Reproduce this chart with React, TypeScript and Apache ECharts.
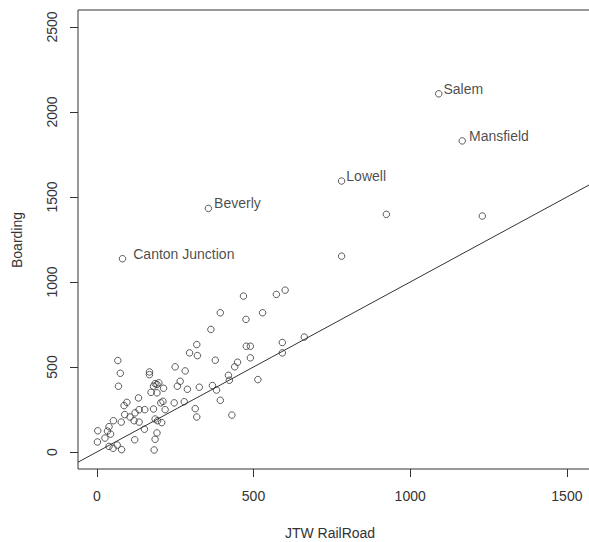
import React, { useEffect, useRef } from "react";
import * as echarts from "echarts";

// Axis ticks / limits (R style: 4% padding around 0..1500 and 0..2500)
const X_TICKS = [0, 500, 1000, 1500];
const Y_TICKS = [0, 500, 1000, 1500, 2000, 2500];
const X_MIN = -60;
const X_MAX = 1612;
const Y_MIN = -100;
const Y_MAX = 2600;

// Unlabelled stations: JTW RailRoad (x) and Boarding (y)
const jtw = [
  67, 75, 69, 168, 168, 186, 192, 198, 181, 213, 173, 192, 133, 250, 282, 266, 257, 289,
  319, 296, 321, 327, 211, 204, 247, 279, 314, 319, 96, 87, 135, 122, 89, 106, 153, 181,
  218, 186, 194, 207, 152, 53, 78, 119, 135, 192, 186, 121, 39, 34, 3, 26, 44, 2, 39, 52,
  65, 79, 183,
  468, 573, 601, 394, 476, 529, 364, 378, 477, 490, 490, 449, 440, 420, 423, 514, 592, 592,
  662, 369, 382, 394, 431,
  924, 1230, 781,
];
const boarding = [
  538, 463, 387, 471, 455, 402, 397, 407, 387, 375, 351, 348, 318, 501, 477, 416, 387, 369,
  632, 583, 567, 381, 298, 289, 289, 296, 255, 206, 292, 273, 249, 230, 220, 206, 249, 253,
  249, 194, 184, 173, 134, 184, 176, 184, 176, 112, 75, 72, 149, 123, 125, 82, 105, 59, 33, 22,
  41, 14, 12,
  917, 927, 952, 819, 780, 819, 721, 540, 622, 622, 554, 528, 501, 451, 422, 426, 644, 583,
  676, 391, 364, 304, 217,
  1398, 1388, 1152,
];

// Labelled stations
const labelNames = ["Canton Junction", "Beverly", "Lowell", "Salem", "Mansfield"];
const labelJtw = [82, 356, 781, 1091, 1166];
const labelBoarding = [1137, 1433, 1594, 2107, 1830];

// Reference line Boarding = intercept + slope * JTW
const ABLINE_INTERCEPT = 0;
const ABLINE_SLOPE = 1;

const FONT = "'Liberation Sans', Arial, sans-serif";
const INK = "#333";

export default function App() {
  const ref = useRef<HTMLDivElement | null>(null);

  useEffect(() => {
    if (!ref.current) return;
    const chart = echarts.init(ref.current, undefined, { renderer: "svg" });

    const points = jtw.map((x, i) => [x, boarding[i]]);
    const labelDistance: Record<string, number> = {
      "Canton Junction": 7,
      Beverly: 2,
      Lowell: 1,
      Salem: 1,
      Mansfield: 3,
    };
    const labelled = labelNames.map((n, i) => ({
      name: n,
      value: [labelJtw[i], labelBoarding[i]],
      label: {
        show: true,
        position: "right",
        distance: labelDistance[n],
        offset: [0, -5],
      },
    }));
    const lineData = [
      [X_MIN, ABLINE_INTERCEPT + ABLINE_SLOPE * X_MIN],
      [X_MAX, ABLINE_INTERCEPT + ABLINE_SLOPE * X_MAX],
    ];

    const pointStyle = {
      color: "rgba(0,0,0,0)",
      borderColor: INK,
      borderWidth: 1,
    };
    const plain = (v: number) => String(v);

    chart.setOption({
      animation: false,
      backgroundColor: "#fff",
      grid: {
        left: 78,
        top: 10,
        width: 524,
        height: 459,
        show: true,
        borderColor: INK,
        borderWidth: 1,
        backgroundColor: "transparent",
        containLabel: false,
        outerBoundsMode: "none",
      },
      xAxis: {
        type: "value",
        position: "bottom",
        min: X_MIN,
        max: X_MAX,
        splitLine: { show: false },
        axisLine: { show: false, onZero: false },
        axisTick: {
          show: true,
          inside: false,
          length: 8,
          lineStyle: { color: INK, width: 1 },
          customValues: X_TICKS,
        },
        axisLabel: {
          customValues: X_TICKS,
          formatter: plain,
          margin: 20,
          fontSize: 14,
          fontFamily: FONT,
          color: INK,
        },
      },
      yAxis: {
        type: "value",
        position: "left",
        min: Y_MIN,
        max: Y_MAX,
        splitLine: { show: false },
        axisLine: { show: false, onZero: false },
        axisTick: {
          show: true,
          inside: false,
          length: 8,
          lineStyle: { color: INK, width: 1 },
          customValues: Y_TICKS,
        },
        axisLabel: {
          customValues: Y_TICKS,
          formatter: plain,
          rotate: 90,
          margin: 19,
          fontSize: 14,
          fontFamily: FONT,
          color: INK,
        },
      },
      graphic: [
        {
          type: "text",
          x: 330,
          y: 532.5,
          style: {
            text: "JTW RailRoad",
            fontSize: 14,
            fontFamily: FONT,
            fill: INK,
            align: "center",
            verticalAlign: "middle",
          },
        },
        {
          type: "text",
          x: 17,
          y: 240,
          rotation: Math.PI / 2,
          style: {
            text: "Boarding",
            fontSize: 14,
            fontFamily: FONT,
            fill: INK,
            align: "center",
            verticalAlign: "middle",
          },
        },
      ],
      series: [
        {
          type: "line",
          data: lineData,
          symbol: "none",
          lineStyle: { color: INK, width: 1 },
          clip: true,
          silent: true,
        },
        {
          type: "scatter",
          data: points,
          symbol: "circle",
          symbolSize: 6.5,
          itemStyle: pointStyle,
        },
        {
          type: "scatter",
          data: labelled,
          symbol: "circle",
          symbolSize: 6.5,
          itemStyle: pointStyle,
          label: {
            formatter: "{b}",
            fontSize: 14,
            fontFamily: FONT,
            color: "#1a1a1a",
          },
        },
      ],
    });

    return () => chart.dispose();
  }, []);

  return (
    <div
      ref={ref}
      style={{ position: "fixed", left: 0, top: 0, width: 589, height: 542, background: "#fff" }}
    />
  );
}
